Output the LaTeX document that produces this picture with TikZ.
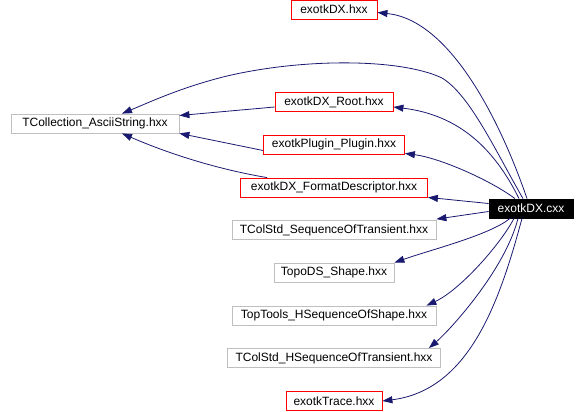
\documentclass[tikz,border=0pt]{standalone}
\usepackage{fontspec}
\setmainfont{Liberation Sans}
\usetikzlibrary{arrows.meta}
\definecolor{edgeblue}{HTML}{191970}
\definecolor{boxgrey}{HTML}{BFBFBF}
\begin{document}
\begin{tikzpicture}[x=1pt,y=-1pt,
	box/.style={draw, line width=0.8pt, minimum height=19pt, inner sep=0pt, font=\fontsize{12}{13}\selectfont},
	edge/.style={draw=edgeblue, line width=0.8pt, -{Triangle[length=10pt,width=7pt]}}]
	%
	\def\colx{334}
	\useasboundingbox (0,0) rectangle (586,412);
	% header column
		\foreach \name/\y/\w/\col/\label in {hdx/9.5/86/red/exotkDX.hxx,
			root/102/118/red/exotkDX\_Root.hxx,
			plugin/144.5/141/red/exotkPlugin\_Plugin.hxx,
			fmt/187.5/187/red/exotkDX\_FormatDescriptor.hxx,
			seq/230/204/boxgrey/TColStd\_SequenceOfTransient.hxx,
			topo/272.5/120/boxgrey/TopoDS\_Shape.hxx,
			toptools/315.5/204/boxgrey/TopTools\_HSequenceOfShape.hxx,
			hseq/358/213/boxgrey/TColStd\_HSequenceOfTransient.hxx,
			trace/401/96/red/exotkTrace.hxx}%
			\node [box, draw=\col, minimum width=\w pt] (\name) at (\colx,\y) {\label};
	% string header and source file
		\node [box, draw=boxgrey, minimum width=168pt] (ascii) at (95,123.5) {TCollection\_AsciiString.hxx};
		\node [box, fill=black, text=white, minimum width=84pt] (cxx) at (531,208.5) {exotkDX.cxx};
	% includes of the source file
		\draw [edge] ([xshift=-4]cxx.north) .. controls (500,120) and (450,20) .. ([yshift=-3]hdx.east);
		\draw [edge] ([xshift=-8]cxx.north) .. controls (495,150) and (470,95) .. (442,78)
			.. controls (400,58) and (300,58) .. (223,77)
			.. controls (180,88) and (150,102) .. ([xshift=27]ascii.north);
		\draw [edge] ([xshift=-12]cxx.north) .. controls (495,150) and (460,115) .. ([yshift=-5]root.east);
		\draw [edge] ([xshift=-16]cxx.north) .. controls (490,180) and (440,158) .. ([yshift=1]plugin.south east);
		\draw [edge] ([yshift=5]cxx.west) -- (fmt.south east);
		\draw [edge] ([yshift=-3]cxx.west) -- ([yshift=1]seq.north east);
		\draw [edge] ([xshift=-21]cxx.south) .. controls (490,235) and (430,250) .. (topo.north east);
		\draw [edge] ([xshift=-17]cxx.south) .. controls (500,245) and (460,290) .. ([xshift=-10]toptools.north east);
		\draw [edge] ([xshift=-13]cxx.south) .. controls (505,270) and (450,330) .. ([xshift=-12]hseq.north east);
		\draw [edge] ([xshift=-9]cxx.south) .. controls (500,300) and (470,390) .. (trace.east);
	% includes of the headers
		\draw [edge] ([yshift=-5]root.west) -- ([yshift=8]ascii.east);
		\draw [edge] ([yshift=-6]plugin.west) -- (ascii.south east);
		\draw [edge] ([xshift=27]fmt.north west) .. controls (210,168) and (160,150) .. ([xshift=27]ascii.south);
\end{tikzpicture}
\end{document}
